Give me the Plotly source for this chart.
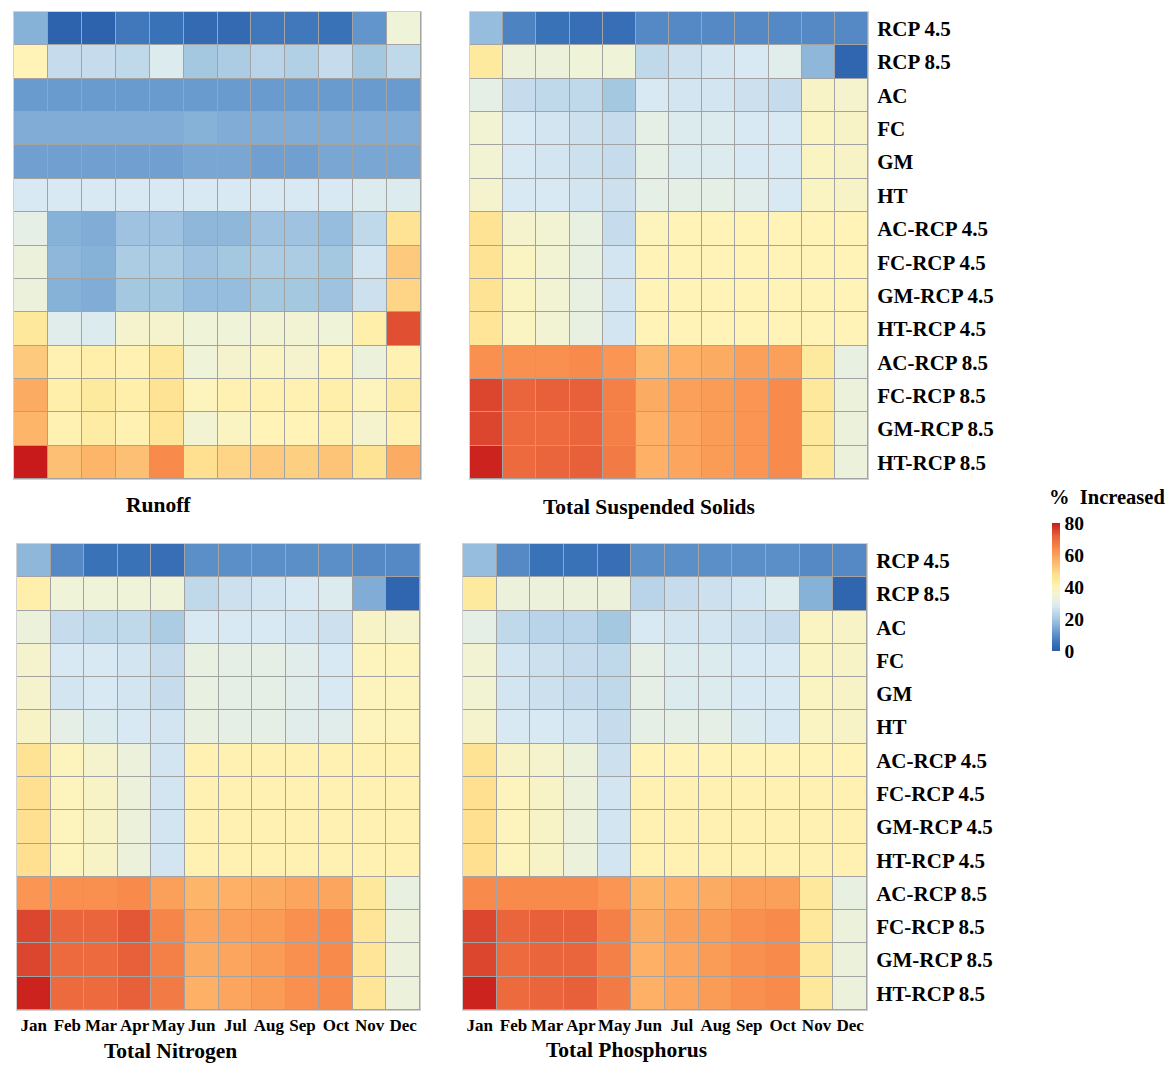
import plotly.graph_objects as go

months = ["Jan", "Feb", "Mar", "Apr", "May", "Jun", "Jul", "Aug", "Sep", "Oct", "Nov", "Dec"]
scenarios = ["RCP 4.5", "RCP 8.5", "AC", "FC", "GM", "HT",
             "AC-RCP 4.5", "FC-RCP 4.5", "GM-RCP 4.5", "HT-RCP 4.5",
             "AC-RCP 8.5", "FC-RCP 8.5", "GM-RCP 8.5", "HT-RCP 8.5"]

runoff = [
    [16, 1, 1, 6, 5, 3, 3, 6, 6, 5, 11, 34],
    [40, 25, 25, 24, 29, 20, 21, 23, 22, 25, 20, 24],
    [12, 12, 12, 12, 12, 12, 12, 12, 12, 12, 12, 12],
    [15, 15, 15, 15, 15, 16, 15, 15, 15, 15, 15, 15],
    [13, 13, 13, 13, 13, 14, 14, 13, 13, 14, 14, 14],
    [28, 28, 28, 28, 28, 28, 28, 28, 28, 28, 29, 29],
    [31, 16, 15, 19, 19, 17, 17, 19, 19, 18, 24, 47],
    [33, 17, 16, 21, 21, 19, 20, 21, 21, 20, 27, 52],
    [33, 16, 15, 20, 20, 18, 18, 20, 20, 19, 26, 50],
    [45, 30, 29, 36, 36, 34, 34, 35, 35, 34, 42, 74],
    [52, 41, 42, 41, 45, 34, 36, 38, 36, 40, 33, 41],
    [58, 42, 44, 42, 47, 39, 41, 41, 41, 42, 39, 43],
    [56, 41, 43, 41, 46, 35, 38, 40, 40, 41, 36, 41],
    [80, 54, 56, 54, 64, 48, 50, 52, 51, 53, 47, 58],
]

tss = [
    [18, 8, 5, 4, 4, 9, 9, 9, 9, 9, 9, 9],
    [44, 33, 33, 34, 34, 24, 26, 27, 28, 30, 17, 2],
    [31, 25, 24, 24, 20, 28, 27, 27, 26, 25, 37, 36],
    [35, 28, 27, 26, 25, 31, 29, 29, 28, 28, 38, 37],
    [35, 28, 27, 26, 25, 31, 29, 29, 28, 28, 38, 37],
    [36, 28, 28, 27, 26, 31, 31, 31, 30, 28, 38, 37],
    [47, 36, 35, 32, 25, 39, 40, 40, 40, 40, 40, 40],
    [47, 38, 35, 32, 27, 40, 40, 40, 40, 40, 40, 40],
    [47, 38, 35, 32, 27, 40, 40, 40, 40, 40, 40, 40],
    [46, 38, 35, 32, 27, 40, 40, 40, 40, 40, 40, 40],
    [63, 63, 63, 64, 62, 55, 57, 58, 60, 60, 44, 32],
    [75, 71, 72, 72, 66, 58, 60, 61, 62, 64, 45, 33],
    [75, 70, 70, 71, 66, 57, 59, 61, 62, 64, 45, 33],
    [79, 70, 71, 72, 67, 57, 59, 61, 62, 64, 45, 33],
]

tn = [
    [17, 9, 5, 5, 4, 10, 10, 10, 10, 10, 9, 9],
    [42, 34, 34, 34, 34, 24, 26, 27, 28, 29, 15, 2],
    [33, 25, 24, 24, 21, 28, 28, 28, 27, 26, 37, 36],
    [36, 28, 28, 27, 25, 32, 31, 31, 30, 28, 39, 39],
    [36, 27, 28, 27, 25, 32, 31, 31, 30, 28, 39, 39],
    [37, 31, 29, 28, 27, 32, 31, 31, 30, 30, 39, 39],
    [47, 39, 36, 33, 27, 41, 41, 41, 41, 41, 41, 41],
    [48, 39, 37, 33, 27, 41, 41, 41, 41, 41, 41, 41],
    [48, 39, 37, 33, 27, 41, 41, 41, 41, 41, 41, 41],
    [48, 39, 37, 33, 27, 41, 41, 41, 41, 41, 41, 41],
    [62, 63, 63, 64, 60, 56, 57, 58, 59, 59, 45, 32],
    [75, 71, 71, 73, 65, 59, 60, 61, 63, 64, 46, 33],
    [75, 70, 70, 72, 66, 58, 59, 61, 63, 64, 46, 33],
    [79, 70, 70, 72, 67, 57, 59, 61, 63, 64, 46, 33],
]

tp = [
    [18, 9, 5, 5, 4, 10, 10, 10, 10, 10, 9, 9],
    [44, 33, 33, 33, 33, 23, 25, 26, 27, 29, 16, 2],
    [31, 24, 23, 23, 20, 28, 27, 27, 26, 25, 38, 37],
    [35, 27, 26, 25, 24, 31, 29, 29, 28, 28, 38, 37],
    [35, 27, 26, 25, 24, 31, 29, 29, 28, 28, 38, 37],
    [36, 28, 28, 27, 25, 31, 31, 31, 29, 28, 38, 37],
    [47, 37, 36, 33, 26, 40, 40, 40, 40, 40, 40, 40],
    [48, 39, 37, 33, 27, 41, 41, 41, 41, 41, 41, 41],
    [48, 39, 37, 33, 27, 41, 41, 41, 41, 41, 41, 41],
    [48, 39, 37, 33, 27, 41, 41, 41, 41, 41, 41, 41],
    [64, 64, 64, 64, 62, 56, 57, 58, 60, 60, 45, 32],
    [75, 71, 72, 72, 66, 58, 60, 61, 63, 64, 45, 33],
    [75, 70, 71, 71, 66, 57, 59, 61, 63, 64, 45, 33],
    [79, 70, 71, 72, 67, 57, 59, 61, 63, 64, 45, 33],
]

panel_titles = ["Runoff", "Total Suspended Solids", "Total Nitrogen", "Total Phosphorus"]
cbar_ticks = [0, 20, 40, 60, 80]

colorscale = [
    [0.0, "#2a5ea9"], [0.0625, "#3a72b8"], [0.125, "#5b8fc8"], [0.1875, "#80acd6"],
    [0.25, "#a5c8e1"], [0.3125, "#c6dcec"], [0.35, "#d8e9f3"], [0.39, "#e6efe4"],
    [0.43, "#f0f3d6"], [0.47, "#f9f3c4"], [0.5, "#fff3b8"], [0.55, "#feea9e"],
    [0.6, "#fee090"], [0.65, "#fdc97c"], [0.7, "#fdb56a"], [0.75, "#fba05a"],
    [0.8, "#f88a4b"], [0.85, "#f07442"], [0.9, "#e8603a"], [0.95, "#d83d2a"],
    [1.0, "#c81a1a"],
]

# page body has an 8px margin; figure fills the rest of the window
OFF = 8
W, H = 1176 - 2 * OFF, 1071 - 2 * OFF
def px(x): return (x - OFF) / W
def py(y): return 1 - (y - OFF) / H

panels = [
    (runoff, (14, 421), (12, 479), False, False),
    (tss, (470, 868), (12, 479), True, False),
    (tn, (17, 420), (544, 1010), False, True),
    (tp, (463, 867), (544, 1010), True, True),
]

fig = go.Figure()
font_family = "Liberation Serif, Times New Roman, serif"

for i, (z, (x0, x1), (y0, y1), show_y, show_x) in enumerate(panels):
    n = i + 1
    xa = "x" if n == 1 else f"x{n}"
    ya = "y" if n == 1 else f"y{n}"
    fig.add_trace(go.Heatmap(
        z=z, x=months, y=scenarios, coloraxis="coloraxis",
        xgap=1, ygap=1, xaxis=xa, yaxis=ya,
    ))
    xkey = "xaxis" if n == 1 else f"xaxis{n}"
    ykey = "yaxis" if n == 1 else f"yaxis{n}"
    fig.layout[xkey] = dict(
        domain=[px(x0), px(x1)], anchor=ya, showgrid=False, zeroline=False,
        showticklabels=show_x, ticks="", type="category", tickangle=0,
        tickmode="array", tickvals=months, ticktext=[f"<b>{m}</b>" for m in months],
        tickfont=dict(family=font_family, size=17, color="black"),
        showline=True, linecolor="#d0d0d0", mirror=True,
    )
    fig.layout[ykey] = dict(
        domain=[py(y1), py(y0)], anchor=xa, showgrid=False, zeroline=False,
        showticklabels=show_y, ticks="", side="right", type="category",
        autorange="reversed", ticklabelstandoff=4,
        tickmode="array", tickvals=scenarios, ticktext=[f"<b>{s}</b>" for s in scenarios],
        tickfont=dict(family=font_family, size=21, color="black"),
        showline=True, linecolor="#d0d0d0", mirror=True,
    )

title_pos = [(158, 505), (649, 507), (170, 1051), (626, 1050)]
for t, (tx, ty) in zip(panel_titles, title_pos):
    fig.add_annotation(text=f"<b>{t}</b>", x=px(tx), y=py(ty), xref="paper", yref="paper",
                       showarrow=False, xanchor="center", yanchor="middle",
                       font=dict(family=font_family, size=21.5, color="black"))

fig.add_annotation(text="<b>%  Increased</b>", x=px(1167), y=py(497), xref="paper", yref="paper",
                   showarrow=False, xanchor="right", yanchor="middle",
                   font=dict(family=font_family, size=20.5, color="black"))

fig.update_layout(
    width=W, height=H,
    margin=dict(l=0, r=0, t=0, b=0),
    paper_bgcolor="white", plot_bgcolor="#a3a3a3",
    coloraxis=dict(
        colorscale=colorscale, cmin=0, cmax=80,
        colorbar=dict(
            x=px(1052), xanchor="left", y=py(587), yanchor="middle",
            xpad=0, ypad=0,
            len=128 / H, lenmode="fraction", thickness=8,
            outlinewidth=0, tickmode="array", tickvals=cbar_ticks,
            ticktext=[f"<b>{v}</b>" for v in cbar_ticks], ticks="",
            tickfont=dict(family=font_family, size=19.5, color="black"),
        ),
    ),
    showlegend=False,
)

fig.write_html("out.html")
